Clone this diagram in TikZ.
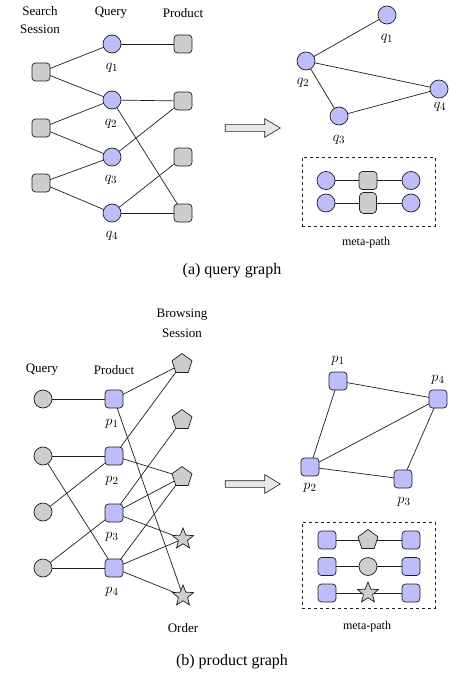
\documentclass[tikz,border=0pt]{standalone}
\usepackage{fontspec}
\setmainfont{Liberation Serif}
\usetikzlibrary{shapes.geometric,shapes.arrows}
\definecolor{qblue}{HTML}{BDBDFC}
\definecolor{ngray}{HTML}{CDCDCD}
\definecolor{edgec}{HTML}{1E1E1E}
\tikzset{
  base/.style={draw=edgec, line width=0.7pt, inner sep=0pt, outer sep=0pt},
  bcirc/.style={base, circle, fill=qblue, minimum size=18pt},
  gcirc/.style={base, circle, fill=ngray, minimum size=18pt},
  bsq/.style={base, rectangle, rounded corners=3.5pt, fill=qblue, minimum size=18pt},
  gsq/.style={base, rectangle, rounded corners=3.5pt, fill=ngray, minimum size=18pt},
  gsqt/.style={base, rectangle, rounded corners=4pt, fill=ngray, minimum width=17pt, minimum height=21pt},
  pent/.style={base, regular polygon, regular polygon sides=5, fill=ngray, minimum size=21pt},
  gstar/.style={base, star, star points=5, star point ratio=2.3, fill=ngray, minimum size=22pt},
  lbl/.style={font=\fontsize{13}{14}\selectfont, inner sep=0pt},
  ml/.style={font=\fontsize{15}{15}\selectfont, inner sep=0pt},
  captxt/.style={font=\fontsize{16}{17}\selectfont, inner sep=0pt},
  mp/.style={font=\fontsize{12}{13}\selectfont, inner sep=0pt},
  ln/.style={draw=edgec, line width=0.7pt},
  bigarrow/.style={single arrow, draw=edgec, line width=0.6pt, fill=gray!18, minimum height=55pt, minimum width=18pt, single arrow head extend=6pt, single arrow tip angle=62, inner sep=3pt},
  mbox/.style={draw=edgec, line width=0.7pt, dashed, rectangle, inner sep=0pt}
}
\begin{document}
\begin{tikzpicture}[x=1pt,y=-1pt]
\useasboundingbox (0,0) rectangle (449,682);
% ================= (a) query graph =================
\node[lbl] (tS1) at (40,11) {Search};
\node[lbl] (tS2) at (40,29) {Session};
\node[lbl] (tQ) at (111,13) {Query};
\node[lbl] (tP) at (183,13) {Product};
\node[gsq] (s1) at (41,72) {};
\node[gsq] (s2) at (41,128) {};
\node[gsq] (s3) at (41,183) {};
\node[bcirc] (q1) at (112,44) {};
\node[bcirc] (q2) at (112,100) {};
\node[bcirc] (q3) at (112,157) {};
\node[bcirc] (q4) at (112,213) {};
\node[gsq] (a1) at (183,44) {};
\node[gsq] (a2) at (183,101) {};
\node[gsq] (a3) at (183,157) {};
\node[gsq] (a4) at (183,213) {};
\node[ml] (lq1) at (112,68) {$q_1$};
\node[ml] (lq2) at (111,124) {$q_2$};
\node[ml] (lq3) at (111,180) {$q_3$};
\node[ml] (lq4) at (112,236) {$q_4$};
\draw[ln] (s1) -- (q1);
\draw[ln] (s1) -- (q2);
\draw[ln] (s2) -- (q2);
\draw[ln] (s2) -- (q3);
\draw[ln] (s3) -- (q3);
\draw[ln] (s3) -- (q4);
\draw[ln] (q1) -- (a1);
\draw[ln] (q2) -- (a2);
\draw[ln] (q2) -- (a4);
\draw[ln] (q3) -- (a2);
\draw[ln] (q4) -- (a3);
\draw[ln] (q4) -- (a4);
\node[bigarrow] (arrA) at (250,128) {};
% right graph
\node[bcirc] (r1) at (387,15) {};
\node[bcirc] (r2) at (306,61) {};
\node[bcirc] (r4) at (439,89) {};
\node[bcirc] (r3) at (339,116) {};
\node[ml] (lr1) at (387,39) {$q_1$};
\node[ml] (lr2) at (303,83) {$q_2$};
\node[ml] (lr4) at (440,107) {$q_4$};
\node[ml] (lr3) at (339,140) {$q_3$};
\draw[ln] (r2) -- (r1);
\draw[ln] (r2) -- (r4);
\draw[ln] (r2) -- (r3);
\draw[ln] (r3) -- (r4);
\node[mbox, minimum width=133pt, minimum height=69pt] (boxA) at (368.5,191.5) {};
\node[bcirc] (ma1) at (326,180.5) {};
\node[gsq] (ma2) at (368,180.5) {};
\node[bcirc] (ma3) at (411,180.5) {};
\node[bcirc] (mb1) at (326,203) {};
\node[gsqt] (mb2) at (368,203) {};
\node[bcirc] (mb3) at (411,203) {};
\draw[ln] (ma1) -- (ma2) -- (ma3);
\draw[ln] (mb1) -- (mb2) -- (mb3);
\node[mp] (mpA) at (366,243) {meta-path};
\node[captxt] (capA) at (232,271) {(a) query graph};
% ================= (b) product graph =================
\node[lbl] (tB1) at (182,315) {Browsing};
\node[lbl] (tB2) at (182,333) {Session};
\node[lbl] (tQb) at (42,370) {Query};
\node[lbl] (tPb) at (114,370) {Product};
\node[lbl] (tO) at (183,628) {Order};
\node[gcirc] (c1) at (43,399) {};
\node[gcirc] (c2) at (43,456) {};
\node[gcirc] (c3) at (43,512) {};
\node[gcirc] (c4) at (43,568) {};
\node[bsq] (p1) at (114,399) {};
\node[bsq] (p2) at (114,456) {};
\node[bsq] (p3) at (114,513) {};
\node[bsq] (p4) at (114,568) {};
\node[ml] (lp1) at (112,424) {$p_1$};
\node[ml] (lp2) at (112,481) {$p_2$};
\node[ml] (lp3) at (112,537) {$p_3$};
\node[ml] (lp4) at (112,592) {$p_4$};
\node[pent] (b1) at (182,364) {};
\node[pent] (b2) at (182,420) {};
\node[pent] (b3) at (182,477) {};
\node[gstar] (o1) at (183,539) {};
\node[gstar] (o2) at (183,596) {};
\draw[ln] (c1) -- (p1);
\draw[ln] (c2) -- (p2);
\draw[ln] (c2) -- (p4);
\draw[ln] (c3) -- (p2);
\draw[ln] (c4) -- (p3);
\draw[ln] (c4) -- (p4);
\draw[ln] (p1) -- (b1);
\draw[ln] (p1) -- (o2);
\draw[ln] (p2) -- (b1);
\draw[ln] (p2) -- (b3);
\draw[ln] (p3) -- (b2);
\draw[ln] (p3) -- (b3);
\draw[ln] (p3) -- (o1);
\draw[ln] (p4) -- (b3);
\draw[ln] (p4) -- (o1);
\draw[ln] (p4) -- (o2);
\node[bigarrow] (arrB) at (250,484) {};
% right graph
\node[bsq] (rp1) at (338,381) {};
\node[bsq] (rp4) at (438,399) {};
\node[bsq] (rp2) at (310,467) {};
\node[bsq] (rp3) at (403,479) {};
\node[ml] (lrp1) at (338,361) {$p_1$};
\node[ml] (lrp4) at (438,380) {$p_4$};
\node[ml] (lrp2) at (310,488) {$p_2$};
\node[ml] (lrp3) at (404,502) {$p_3$};
\draw[ln] (rp1) -- (rp4);
\draw[ln] (rp1) -- (rp2);
\draw[ln] (rp2) -- (rp4);
\draw[ln] (rp2) -- (rp3);
\draw[ln] (rp3) -- (rp4);
\node[mbox, minimum width=133pt, minimum height=86pt] (boxB) at (368.5,565) {};
\node[bsq] (na1) at (327,540) {};
\node[pent] (na2) at (368,540) {};
\node[bsq] (na3) at (411,540) {};
\node[bsq] (nb1) at (327,566.5) {};
\node[gcirc] (nb2) at (368,566.5) {};
\node[bsq] (nb3) at (411,566.5) {};
\node[bsq] (nc1) at (327,593) {};
\node[gstar] (nc2) at (368,593) {};
\node[bsq] (nc3) at (411,593) {};
\draw[ln] (na1) -- (na2) -- (na3);
\draw[ln] (nb1) -- (nb2) -- (nb3);
\draw[ln] (nc1) -- (nc2) -- (nc3);
\node[mp] (mpB) at (367,627) {meta-path};
\node[captxt] (capB) at (232,662) {(b) product graph};
\end{tikzpicture}
\end{document}
